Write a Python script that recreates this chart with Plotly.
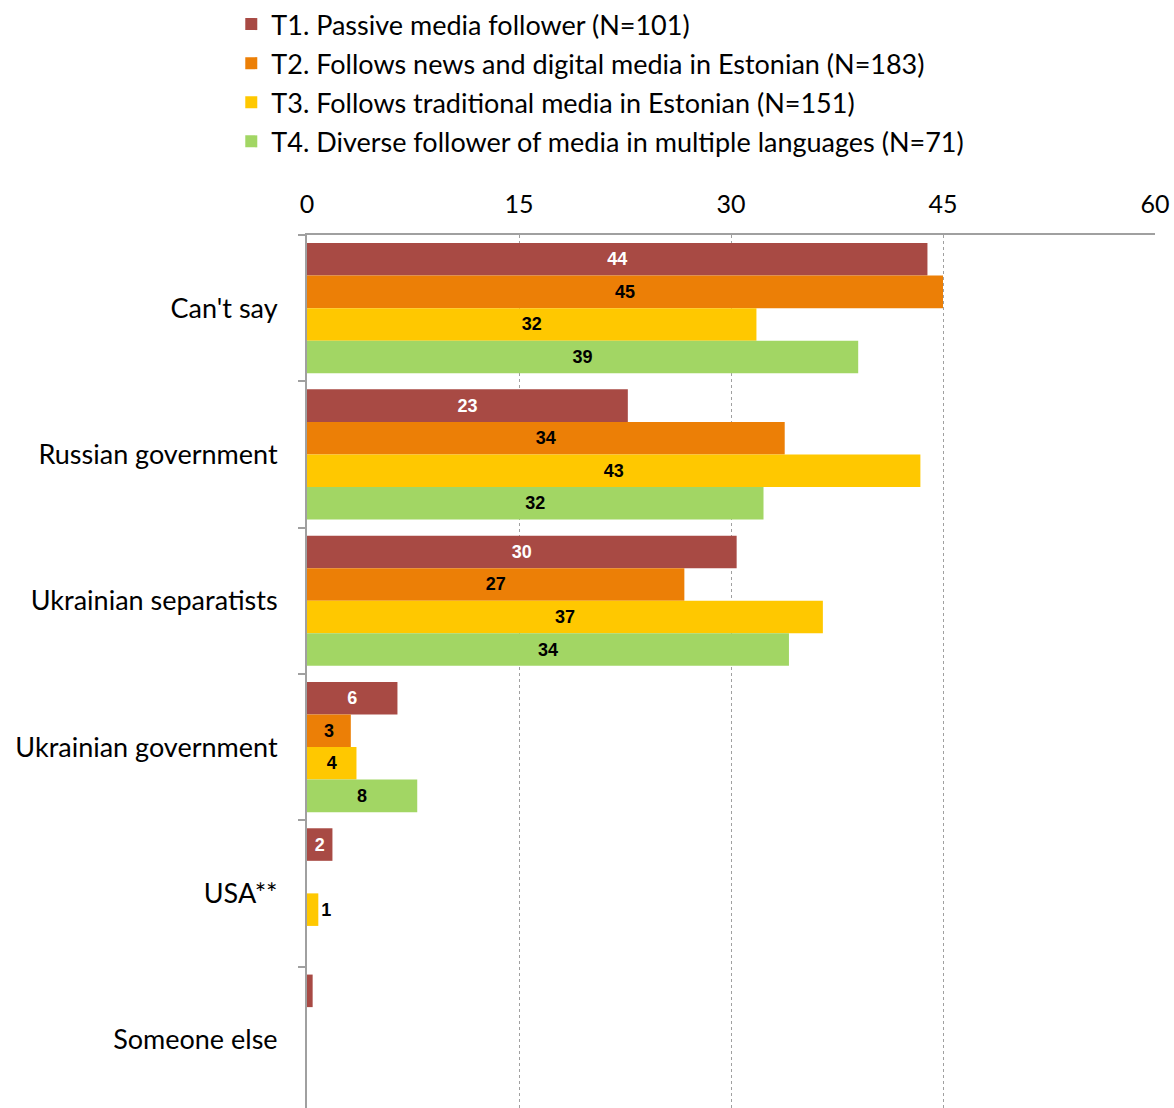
import plotly.graph_objects as go

categories = ["Can't say", "Russian government", "Ukrainian separatists",
              "Ukrainian government", "USA**", "Someone else"]
series_names = ["T1. Passive media follower (N=101)",
                "T2. Follows news and digital media in Estonian (N=183)",
                "T3. Follows traditional media in Estonian (N=151)",
                "T4. Diverse follower of media in multiple languages (N=71)"]
t1 = [43.9, 22.7, 30.4, 6.4, 1.8, 0.4]
t2 = [45.0, 33.8, 26.7, 3.1, 0, 0]
t3 = [31.8, 43.4, 36.5, 3.5, 0.8, 0]
t4 = [39.0, 32.3, 34.1, 7.8, 0, 0]
t1_labels = ["44", "23", "30", "6", "2", ""]
t2_labels = ["45", "34", "27", "3", "", ""]
t3_labels = ["32", "43", "37", "4", "1", ""]
t4_labels = ["39", "32", "34", "8", "", ""]
x_ticks = [0, 15, 30, 45, 60]

colors = ["#A84A44", "#EC7F06", "#FFC800", "#A2D664"]
label_colors = ["white", "black", "black", "black"]
values = [t1, t2, t3, t4]
labels = [t1_labels, t2_labels, t3_labels, t4_labels]

fig = go.Figure()
for i in range(4):
    positions = ["inside"] * len(categories)
    if i == 2:
        positions[4] = "outside"
    fig.add_trace(go.Bar(
        y=categories, x=values[i], orientation="h", name=series_names[i],
        marker=dict(color=colors[i], line=dict(width=0)),
        text=labels[i], textposition=positions,
        insidetextanchor="middle", constraintext="none",
        insidetextfont=dict(family="Liberation Sans", size=18, color=label_colors[i], weight="bold"),
        outsidetextfont=dict(family="Liberation Sans", size=18, color="black", weight="bold"),
        cliponaxis=False, legendgroup="g%d" % i,
    ))

fig.update_layout(
    width=1174, height=1108,
    margin=dict(l=307, r=19, t=235, b=0, autoexpand=False),
    paper_bgcolor="white", plot_bgcolor="white",
    barmode="group", bargap=0.11, bargroupgap=0,
    font=dict(family="Lato", size=27, color="black"),
    legend=dict(xref="container", yref="container", x=0.197, y=1.006,
                xanchor="left", yanchor="top", traceorder="grouped",
                tracegroupgap=1, font=dict(size=27, family="Lato"),
                itemwidth=30, bgcolor="rgba(0,0,0,0)"),
    showlegend=True,
)
fig.update_xaxes(side="top", range=[0, 60], tickvals=x_ticks,
                 showgrid=True, gridcolor="#A0A0A0", griddash="dot", gridwidth=1,
                 showline=True, linecolor="#A0A0A0", linewidth=2,
                 ticks="", tickfont=dict(size=25, family="Lato"), zeroline=False,
                 ticklabelstandoff=10)
fig.update_yaxes(categoryorder="array", categoryarray=categories,
                 range=[5.467, -0.5], tickson="boundaries",
                 ticks="outside", ticklen=7, tickcolor="#A0A0A0", tickwidth=2,
                 showline=True, linecolor="#A0A0A0", linewidth=2,
                 tickfont=dict(size=27, family="Lato"), ticklabelstandoff=22)

fig.write_html("out.html")
